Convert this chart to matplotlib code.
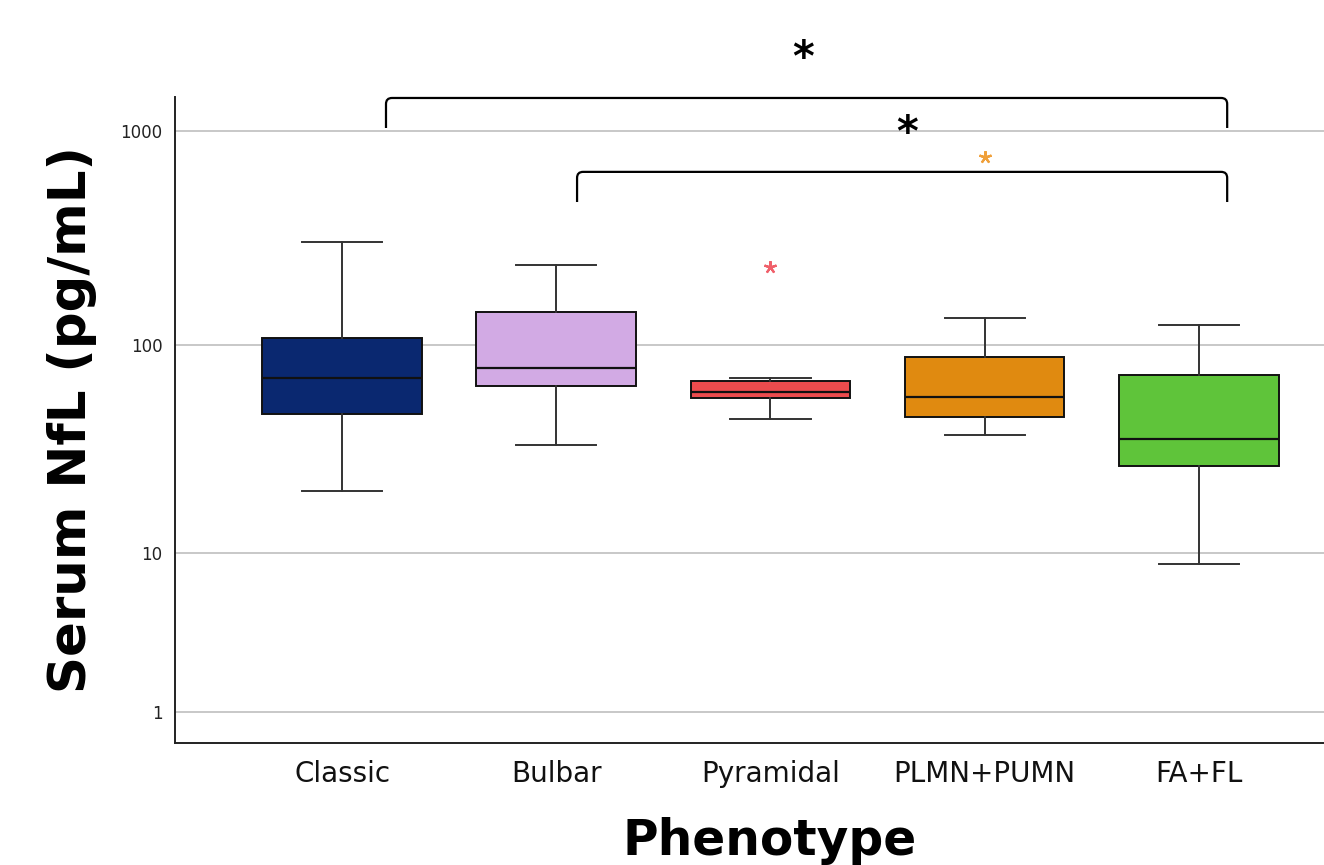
import numpy as np
import matplotlib.pyplot as plt
from matplotlib.path import Path
from matplotlib.patches import PathPatch

# Serum NfL by ALS phenotype (box summaries, pg/mL)
phenotypes = ['Classic', 'Bulbar', 'Pyramidal', 'PLMN+PUMN', 'FA+FL']
whisker_low = [20.3, 33.8, 45.0, 37.8, 8.7]
q1 = [47.5, 64.5, 56.6, 46.0, 26.7]
median = [70.0, 78.0, 60.4, 57.2, 36.1]
q3 = [108.0, 143.0, 68.0, 88.3, 72.6]
whisker_high = [304.0, 238.0, 70.0, 134.5, 124.7]
extremes = [[], [], [233.0], [757.0], []]

box_colors = ['#0a2870', '#d2aae4', '#ec4b4d', '#e08a10', '#5fc43a']
extreme_colors = ['#0a2870', '#d2aae4', '#f0606a', '#f0a03a', '#5fc43a']

# significance brackets: (x start, x end, top level, end level), star (x, y)
brackets = [(0.205, 4.132, 1423.0, 1032.0), (1.097, 4.132, 645.0, 467.0)]
stars = [(2.152, 2161.0), (2.637, 969.0)]


def safe_log(v):
    return np.log10(np.clip(v, -0.999, None) + 1.0)


def safe_log_inv(t):
    return 10.0 ** t - 1.0


fig = plt.figure(figsize=(13.24, 8.65), dpi=100)
ax = fig.add_axes([175 / 1324, 122 / 865, 1 - 175 / 1324, 646 / 865])
ax.set_yscale('function', functions=(safe_log, safe_log_inv))

stats = []
for i, name in enumerate(phenotypes):
    stats.append({'label': name, 'med': median[i], 'q1': q1[i], 'q3': q3[i],
                  'whislo': whisker_low[i], 'whishi': whisker_high[i],
                  'fliers': extremes[i]})

bp = ax.bxp(stats, positions=range(len(phenotypes)), widths=0.745,
            capwidths=0.375, patch_artist=True, showfliers=True,
            boxprops=dict(edgecolor='#111111', linewidth=1.4),
            medianprops=dict(color='#111111', linewidth=1.6),
            whiskerprops=dict(color='#333333', linewidth=1.4),
            capprops=dict(color='#333333', linewidth=1.4),
            flierprops=dict(marker=(5, 2, 0), markersize=9, linestyle='none',
                            markeredgewidth=1.6))
for patch, c in zip(bp['boxes'], box_colors):
    patch.set_facecolor(c)
for fl, c in zip(bp['fliers'], extreme_colors):
    fl.set_markeredgecolor(c)

ax.set_xlim(-0.78, 4.584)
ax.set_ylim(0.436, 1438)
ax.set_yticks([1, 10, 100, 1000])
ax.set_yticklabels(['1', '10', '100', '1000'])
ax.minorticks_off()
ax.yaxis.grid(True, color='#c4c4c4', linewidth=1.3)
ax.set_axisbelow(True)
ax.tick_params(axis='y', length=0, pad=9, labelsize=12, labelcolor='#222222')
ax.tick_params(axis='x', length=0, pad=12, labelsize=20, labelcolor='#111111')
ax.set_xticks(range(len(phenotypes)))
ax.set_xticklabels(phenotypes)

for side in ['top', 'right']:
    ax.spines[side].set_visible(False)
for side in ['left', 'bottom']:
    ax.spines[side].set_color('#222222')
    ax.spines[side].set_linewidth(1.4)

# brackets with rounded corners
for x0, x1, ytop, yend in brackets:
    yc = (ytop + 1) * 10 ** (-6 / 215.3) - 1
    dx = 0.028
    verts = [(x0, yend), (x0, yc), (x0, ytop), (x0 + dx, ytop),
             (x1 - dx, ytop), (x1, ytop), (x1, yc), (x1, yend)]
    codes = [Path.MOVETO, Path.LINETO, Path.CURVE3, Path.CURVE3,
             Path.LINETO, Path.CURVE3, Path.CURVE3, Path.LINETO]
    ax.add_patch(PathPatch(Path(verts, codes), facecolor='none',
                           edgecolor='black', linewidth=1.6, clip_on=False))

for sx, sy in stars:
    ax.text(sx, sy, '*', ha='center', va='center', fontsize=30,
            fontweight='bold', color='black', clip_on=False)

fig.text(72 / 1324, 1 - 420 / 865, 'Serum NfL (pg/mL)', rotation=90,
         ha='center', va='center', fontsize=37, fontweight='bold')
fig.text(770 / 1324, 1 - 855 / 865, 'Phenotype', ha='center',
         va='baseline', fontsize=35, fontweight='bold')

fig.savefig('out.png', dpi=100)
